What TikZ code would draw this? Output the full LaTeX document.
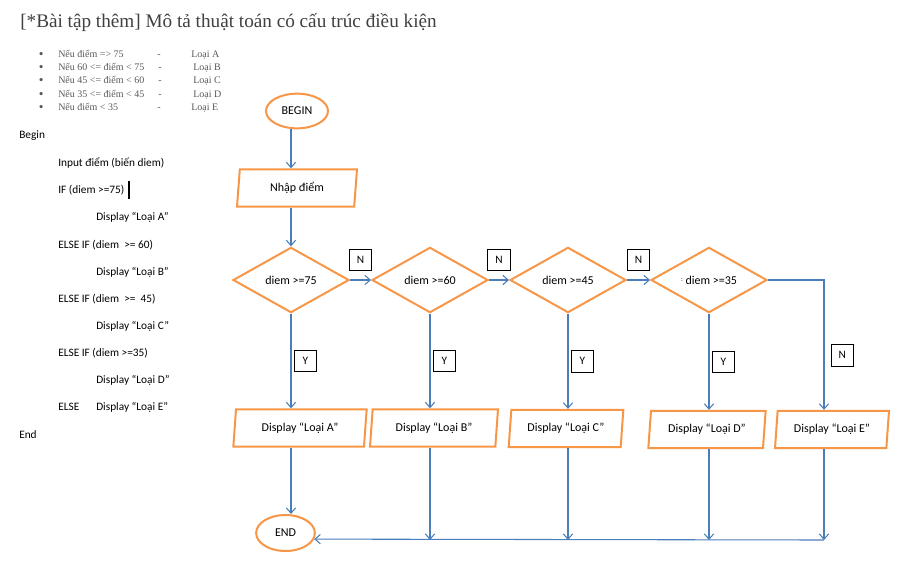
\documentclass[tikz,border=0pt]{standalone}
\usepackage{fontspec}
\setmainfont{Carlito}
\newfontfamily\tnr{Liberation Serif}
\usetikzlibrary{shapes.geometric, arrows.meta, positioning}
\definecolor{floworange}{HTML}{F79646}
\definecolor{flowblue}{HTML}{4A7EBB}
\definecolor{notegray}{HTML}{595959}
\tikzset{
    x=0.75pt, y=-0.75pt, % one unit is one pixel of the scan
    >={Straight Barb[length=4pt,width=7pt]}, % open arrow heads
    flow/.style={->, flowblue, line width=0.8pt}, % the connectors
    term/.style={ellipse, draw=floworange, line width=1.5pt, inner sep=0pt, text=black, font=\fontsize{9}{11}\selectfont}, % BEGIN / END
    io/.style={trapezium, trapezium left angle=76, trapezium right angle=104, trapezium stretches body,
        draw=floworange, line width=1.5pt, minimum height=28pt, inner sep=0pt, text=black, font=\fontsize{9}{11}\selectfont}, % input / display
    test/.style={diamond, draw=floworange, line width=1.5pt, minimum width=87pt, minimum height=49pt,
        inner sep=0pt, text=black, font=\fontsize{9}{11}\selectfont}, % conditions
    tag/.style={draw=black, text=black, line width=0.6pt, minimum width=17pt, minimum height=16pt, inner sep=0pt,
        font=\fontsize{8.5}{10}\selectfont}, % Y / N boxes
    code/.style={anchor=west, inner sep=0pt, font=\fontsize{8.5}{10}\selectfont}, % pseudocode lines
    item/.style={anchor=base west, inner sep=0pt, notegray, font=\tnr\fontsize{7.5}{9}\selectfont}, % bullet notes
    dot/.style={item, font=\tnr\fontsize{10}{10}\selectfont}, % the bullets
}

\begin{document}
\begin{tikzpicture}
    \useasboundingbox (0,0) rectangle (897,569);
    % title and notes
    \node[anchor=base west, inner sep=0pt, text=black!75, font=\tnr\fontsize{14.4}{17}\selectfont] (title) at (20,27)
        {[*Bài tập thêm] Mô tả thuật toán có cấu trúc điều kiện};
    \node[dot] (b1) at (38.5,58) {•};
    \node[dot] (b2) at (38.5,71) {•};
    \node[dot] (b3) at (38.5,84.5) {•};
    \node[dot] (b4) at (38.5,98) {•};
    \node[dot] (b5) at (38.5,111) {•};
    \node[item] (n1) at (58,57) {Nếu điểm => 75};
    \node[item] (n2) at (58,70) {Nếu 60 <= điểm < 75};
    \node[item] (n3) at (58,83.5) {Nếu 45 <= điểm < 60};
    \node[item] (n4) at (58,97) {Nếu 35 <= điểm < 45};
    \node[item] (n5) at (58,110) {Nếu điểm < 35};
    \node[item] (h1) at (157,57) {-};
    \node[item] (h2) at (158,70) {-};
    \node[item] (h3) at (158,83.5) {-};
    \node[item] (h4) at (158,97) {-};
    \node[item] (h5) at (157,110) {-};
    \node[item] (g1) at (191,57) {Loại A};
    \node[item] (g2) at (193,70) {Loại B};
    \node[item] (g3) at (193,83.5) {Loại C};
    \node[item] (g4) at (193,97) {Loại D};
    \node[item] (g5) at (191,110) {Loại E};

    % pseudocode
    \node[code] (pbegin) at (19,136) {Begin};
    \node[code] (pinput) at (58,163) {Input điểm (biến diem)};
    \node[code] (pif1) at (58,190) {IF (diem >=75)};
    \fill (128,181) rectangle (130,199); % text cursor
    \node[code] (pa) at (96,217) {Display “Loại A”};
    \node[code] (pif2) at (58,245) {ELSE IF (diem\ \ >= 60)};
    \node[code] (pb) at (96,272) {Display “Loại B”};
    \node[code] (pif3) at (58,299) {ELSE IF (diem\ \ >=\ \ 45)};
    \node[code] (pc) at (96,326) {Display “Loại C”};
    \node[code] (pif4) at (58,353) {ELSE IF (diem >=35)};
    \node[code] (pd) at (96,380) {Display “Loại D”};
    \node[code] (pelse) at (58,407) {ELSE};
    \node[code] (pe) at (96,407) {Display “Loại E”};
    \node[code] (pend) at (19,435) {End};

    % flowchart
    \node[term, minimum width=46.5pt, minimum height=26pt] (b) at (297,111) {BEGIN};
    \node[io, minimum width=90pt] (in) at (297,188) {Nhập điểm};
    \node[test] (d1) at (291,280) {diem >=75};
    \node[test] (d2) at (430,280) {diem >=60};
    \node[test] (d3) at (568,280) {diem >=45};
    \node[test] (d4) at (709,280) {{\tiny\raisebox{2pt}{:}} diem >=35};
    \node[io, minimum width=100pt] (ra) at (300,428) {Display “Loại A”};
    \node[io, minimum width=96pt] (rb) at (434,428) {Display “Loại B”};
    \node[io, minimum width=86pt] (rc) at (566,428.5) {Display “Loại C”};
    \node[io, minimum width=88pt] (rd) at (707,429.5) {Display “Loại D”};
    \node[io, minimum width=85.5pt] (re) at (832,429.5) {Display “Loại E”};
    \node[term, minimum width=44pt, minimum height=27pt] (e) at (285.5,533) {END};
    \coordinate (bus) at (824,540);

    \draw[flow] (b.south -| d1) -- (in.north -| d1);
    \draw[flow] (in.south -| d1) -- (d1.north);
    \draw[flow]
    (d1) edge node[tag, above=7pt] {N} (d2)
    (d2) edge node[tag, above=7pt] {N} (d3)
    (d3) edge node[tag, above=7pt] {N} (d4)
    (d1) edge node[tag, right=2pt] {Y} (d1 |- ra.north)
    (d2) edge node[tag, right=2pt] {Y} (d2 |- rb.north)
    (d3) edge node[tag, right=2pt] {Y} (d3 |- rc.north)
    (d4) edge node[tag, right=2pt] {Y} (d4 |- rd.north);
    \draw[flow] (d4.east) -| node[tag, pos=0.79, right=5pt] {N} (bus |- re.north);

    \draw[flow] (ra.south -| d1) -- (e.north -| d1);
    \draw[flow] (rb.south -| d2) -- (d2 |- bus);
    \draw[flow] (rc.south -| d3) -- (d3 |- bus);
    \draw[flow] (rd.south -| d4) -- (d4 |- bus);
    \draw[flow] (re.south -| bus) -- (bus);
    \draw[flow] (bus) -- (e.-12);
\end{tikzpicture}
\end{document}
